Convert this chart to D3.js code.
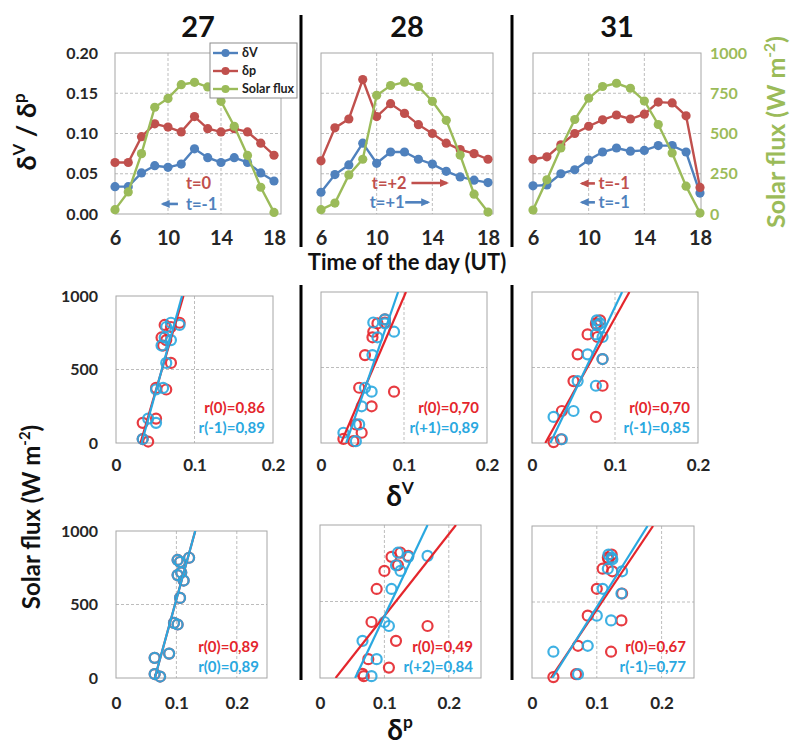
<!DOCTYPE html>
<html>
<head>
<meta charset="utf-8">
<script src="https://cdn.jsdelivr.net/npm/d3@7"></script>
<style>
  body { margin: 0; background: #fff; }
  text { font-family: Lato, "Open Sans", "DejaVu Sans", sans-serif; font-weight: 700; }
</style>
</head>
<body>
<svg id="chart"></svg>
<script>
// ---- data ----
const days = ['27', '28', '31'];
const hours = [6, 7, 8, 9, 10, 11, 12, 13, 14, 15, 16, 17, 18];

const dV27 = [0.034, 0.034, 0.051, 0.060, 0.058, 0.062, 0.081, 0.070, 0.064, 0.070, 0.064, 0.051, 0.041];
const dP27 = [0.064, 0.064, 0.096, 0.112, 0.108, 0.102, 0.121, 0.106, 0.102, 0.106, 0.102, 0.088, 0.073];
const flux27 = [27, 137, 375, 663, 718, 803, 818, 789, 700, 545, 364, 166, 10];

const dV28 = [0.027, 0.049, 0.061, 0.088, 0.063, 0.077, 0.077, 0.068, 0.062, 0.053, 0.046, 0.042, 0.039];
const dP28 = [0.066, 0.107, 0.118, 0.167, 0.121, 0.137, 0.125, 0.111, 0.100, 0.088, 0.080, 0.075, 0.068];
const flux28 = [27, 68, 243, 340, 737, 798, 819, 792, 700, 582, 366, 123, 12];

const dV31 = [0.035, 0.036, 0.050, 0.055, 0.067, 0.077, 0.082, 0.078, 0.079, 0.085, 0.085, 0.077, 0.026];
const dP31 = [0.068, 0.071, 0.086, 0.100, 0.109, 0.117, 0.123, 0.118, 0.124, 0.139, 0.138, 0.122, 0.033];
const flux31 = [25, 212, 410, 587, 719, 792, 812, 781, 702, 556, 379, 173, 6];

const dV = [dV27, dV28, dV31];
const dP = [dP27, dP28, dP31];
const flux = [flux27, flux28, flux31];

// best lag of each day (blue circles), red circles are always lag 0
const lagV = [-1, 1, -1];
const lagP = [0, 2, -1];
const rTextV = [['r(0)=0,86', 'r(-1)=0,89'], ['r(0)=0,70', 'r(+1)=0,89'], ['r(0)=0,70', 'r(-1)=0,85']];
const rTextP = [['r(0)=0,89', 'r(0)=0,89'], ['r(0)=0,49', 'r(+2)=0,84'], ['r(0)=0,67', 'r(-1)=0,77']];

const deltaTicks = [0, 0.05, 0.10, 0.15, 0.20];
const fluxTicks = [0, 250, 500, 750, 1000];
const hourTicks = [6, 10, 14, 18];
const legendNames = ['δV', 'δp', 'Solar flux'];

// lag annotations on the time series (hour / value anchors)
const notes = [
  [{text: 't=0', c: 'red', hour: 11.35, value: 0.038},
   {text: 't=-1', c: 'blue', hour: 11.35, value: 0.0125, arrow: [10.75, 9.6]}],
  [{text: 't=+2', c: 'red', hour: 9.65, value: 0.0385, arrow: [12.5, 15.05]},
   {text: 't=+1', c: 'blue', hour: 9.5, value: 0.0145, arrow: [12.05, 13.7]}],
  [{text: 't=-1', c: 'red', hour: 10.7, value: 0.038, arrow: [10.45, 9.5]},
   {text: 't=-1', c: 'blue', hour: 10.7, value: 0.0145, arrow: [10.45, 9.5]}]
];

// ---- styles / layout ----
const col = {blue: '#4f81bd', red: '#c0504d', green: '#9bbb59', sRed: '#e4262c', sBlue: '#2aa8e0',
             grid: '#bdbdbd', frame: '#a6a6a6', tick: '#262626'};

const topBox = [{x6: 115, x18: 274, right: 281}, {x6: 321, x18: 488, right: 493}, {x6: 533, x18: 700, right: 701}];
const topTop = 53, topBottom = 214;

const rowV = {bottom: 443, xMax: 0.2, grid: [0.1], tickY: 459, rDy: [-30, -10],
  boxes: [{x0: 116, x1: 273, y0: 296}, {x0: 321, x1: 487, y0: 292}, {x0: 532, x1: 698, y0: 292}]};
const rowP = {bottom: 678, xMax: 0.25, grid: [0.1, 0.2], tickY: 697, rDy: [-26, -6],
  boxes: [{x0: 116, x1: 267, y0: 531}, {x0: 320, x1: 481, y0: 525}, {x0: 532, x1: 694, y0: 526}]};

const svg = d3.select('#chart').attr('width', 797).attr('height', 746);

const defs = svg.append('defs');
['red', 'blue'].forEach(c => {
  defs.append('marker')
    .attr('id', 'arr-' + c)
    .attr('markerUnits', 'userSpaceOnUse')
    .attr('markerWidth', 10).attr('markerHeight', 10)
    .attr('refX', 7).attr('refY', 5)
    .attr('orient', 'auto')
    .append('path')
    .attr('d', 'M0,1 L9,5 L0,9 Z')
    .attr('fill', col[c]);
});

function styleAxis(g, size, color) {
  g.select('.domain').remove();
  g.selectAll('.tick line').remove();
  g.selectAll('text')
    .attr('fill', color || col.tick)
    .style('font-size', size + 'px');
}

// text with superscript pieces
function rich(t, parts, size) {
  let shift = 0;
  parts.forEach(([s, sup]) => {
    const target = sup ? -size * 0.42 : 0;
    t.append('tspan').text(s)
      .style('font-size', (sup ? size * 0.62 : size) + 'px')
      .attr('dy', target - shift);
    shift = target;
  });
}

// ---- top row: diurnal series ----
function drawTop(i) {
  const b = topBox[i];
  const x = d3.scaleLinear().domain([6, 18]).range([b.x6, b.x18]);
  const y = d3.scaleLinear().domain([0, 0.2]).range([topBottom, topTop]);
  const yF = d3.scaleLinear().domain([0, 1000]).range([topBottom, topTop]);
  const g = svg.append('g');

  g.selectAll('.hgrid').data(deltaTicks.slice(1, 4)).join('line')
    .attr('x1', b.x6).attr('x2', b.right)
    .attr('y1', d => y(d)).attr('y2', d => y(d))
    .attr('stroke', col.grid).attr('stroke-dasharray', '3,2');
  g.selectAll('.vgrid').data([10, 14]).join('line')
    .attr('x1', d => x(d)).attr('x2', d => x(d))
    .attr('y1', topTop).attr('y2', topBottom)
    .attr('stroke', col.grid).attr('stroke-dasharray', '3,2');
  g.append('rect')
    .attr('x', b.x6).attr('y', topTop)
    .attr('width', b.right - b.x6).attr('height', topBottom - topTop)
    .attr('fill', 'none').attr('stroke', col.frame);

  const series = [
    {vals: dV[i], color: col.blue, s: y},
    {vals: dP[i], color: col.red, s: y},
    {vals: flux[i], color: col.green, s: yF}
  ];
  series.forEach(se => {
    const line = d3.line().x((d, k) => x(hours[k])).y(d => se.s(d));
    g.append('path').datum(se.vals)
      .attr('d', line).attr('fill', 'none')
      .attr('stroke', se.color).attr('stroke-width', 2.4);
    g.selectAll(null).data(se.vals).join('circle')
      .attr('cx', (d, k) => x(hours[k])).attr('cy', d => se.s(d))
      .attr('r', 4.6).attr('fill', se.color);
  });

  // x axis
  g.append('g')
    .attr('transform', `translate(0,${topBottom + 17})`)
    .call(d3.axisBottom(x).tickValues(hourTicks).tickSize(0).tickPadding(0))
    .call(a => styleAxis(a, 20));

  if (i === 0) {
    g.append('g')
      .attr('transform', `translate(${b.x6 - 17},0)`)
      .call(d3.axisLeft(y).tickValues(deltaTicks).tickFormat(d3.format('.2f')).tickSize(0).tickPadding(0))
      .call(a => styleAxis(a, 16));
  }
  if (i === 2) {
    g.append('g')
      .attr('transform', `translate(${b.right + 9},0)`)
      .call(d3.axisRight(yF).tickValues(fluxTicks).tickFormat(d3.format('d')).tickSize(0).tickPadding(0))
      .call(a => styleAxis(a, 16, col.green));
  }

  // lag notes
  notes[i].forEach(n => {
    const yy = y(n.value);
    if (n.arrow) {
      g.append('line')
        .attr('x1', x(n.arrow[0])).attr('x2', x(n.arrow[1]))
        .attr('y1', yy).attr('y2', yy)
        .attr('stroke', col[n.c]).attr('stroke-width', 2.6)
        .attr('marker-end', `url(#arr-${n.c})`);
    }
    g.append('text')
      .attr('x', x(n.hour)).attr('y', yy).attr('dy', '0.36em')
      .attr('fill', col[n.c]).style('font-size', '16.5px')
      .text(n.text);
  });

  // day title
  svg.append('text')
    .attr('x', (b.x6 + b.right) / 2).attr('y', 37)
    .attr('text-anchor', 'middle').style('font-size', '29px').attr('fill', '#111')
    .text(days[i]);

  if (i === 0) {
    const lg = svg.append('g').attr('transform', 'translate(210,43)');
    lg.append('rect').attr('width', 87).attr('height', 55)
      .attr('fill', '#fff').attr('stroke', '#8c8c8c');
    series.forEach((se, k) => {
      const yy = 10 + k * 18;
      lg.append('line').attr('x1', 3).attr('x2', 28).attr('y1', yy).attr('y2', yy)
        .attr('stroke', se.color).attr('stroke-width', 2.4);
      lg.append('circle').attr('cx', 15.5).attr('cy', yy).attr('r', 4).attr('fill', se.color);
      lg.append('text').attr('x', 32).attr('y', yy).attr('dy', '0.35em')
        .style('font-size', '12.5px').attr('fill', '#222').text(legendNames[k]);
    });
  }
}

// ---- scatter rows: solar flux vs delta ----
function lagPairs(delta, fl, lag) {
  const out = [];
  delta.forEach((d, k) => {
    const j = k + lag;
    if (j >= 0 && j < fl.length) out.push([d, fl[j]]);
  });
  return out;
}

function fit(pts) {
  const mx = d3.mean(pts, p => p[0]), my = d3.mean(pts, p => p[1]);
  const sxy = d3.sum(pts, p => (p[0] - mx) * (p[1] - my));
  const sxx = d3.sum(pts, p => (p[0] - mx) ** 2);
  const m = sxy / sxx;
  return {m: m, b: my - m * mx};
}

function drawScatter(row, i, delta, lag, rText, id) {
  const b = row.boxes[i];
  const x = d3.scaleLinear().domain([0, row.xMax]).range([b.x0, b.x1]);
  const y = d3.scaleLinear().domain([0, 1000]).range([row.bottom, b.y0]);
  const g = svg.append('g');

  g.append('clipPath').attr('id', id)
    .append('rect').attr('x', b.x0).attr('y', b.y0)
    .attr('width', b.x1 - b.x0).attr('height', row.bottom - b.y0);

  g.append('line')
    .attr('x1', b.x0).attr('x2', b.x1).attr('y1', y(500)).attr('y2', y(500))
    .attr('stroke', col.grid).attr('stroke-dasharray', '3,2');
  g.selectAll('.vg').data(row.grid).join('line')
    .attr('x1', d => x(d)).attr('x2', d => x(d))
    .attr('y1', b.y0).attr('y2', row.bottom)
    .attr('stroke', col.grid).attr('stroke-dasharray', '3,2');
  g.append('rect')
    .attr('x', b.x0).attr('y', b.y0)
    .attr('width', b.x1 - b.x0).attr('height', row.bottom - b.y0)
    .attr('fill', 'none').attr('stroke', col.frame);

  const sets = [
    {pts: lagPairs(delta, flux[i], 0), color: col.sRed},
    {pts: lagPairs(delta, flux[i], lag), color: col.sBlue}
  ];
  sets.forEach(s => {
    g.selectAll(null).data(s.pts).join('circle')
      .attr('cx', p => x(p[0])).attr('cy', p => y(p[1]))
      .attr('r', 5).attr('fill', 'none')
      .attr('stroke', s.color).attr('stroke-width', 2.2)
      .attr('stroke-opacity', 0.9);
  });
  sets.forEach(s => {
    const f = fit(s.pts);
    g.append('line')
      .attr('clip-path', `url(#${id})`)
      .attr('x1', x((0 - f.b) / f.m)).attr('y1', y(0))
      .attr('x2', x((1000 - f.b) / f.m)).attr('y2', y(1000))
      .attr('stroke', s.color).attr('stroke-width', 2.2);
  });

  g.append('g')
    .attr('transform', `translate(0,${row.tickY})`)
    .call(d3.axisBottom(x).tickValues([0, 0.1, 0.2]).tickFormat(d => d === 0 ? '0' : d3.format('.1f')(d))
      .tickSize(0).tickPadding(0))
    .call(a => styleAxis(a, 17));

  if (i === 0) {
    g.append('g')
      .attr('transform', `translate(${b.x0 - 18},0)`)
      .call(d3.axisLeft(y).tickValues([0, 500, 1000]).tickFormat(d3.format('d')).tickSize(0).tickPadding(0))
      .call(a => styleAxis(a, 16));
  }

  [col.sRed, col.sBlue].forEach((c, k) => {
    g.append('text')
      .attr('x', b.x1 - 8).attr('y', row.bottom + row.rDy[k])
      .attr('text-anchor', 'end').attr('fill', c)
      .style('font-size', '15px').text(rText[k]);
  });
}

[0, 1, 2].forEach(i => {
  drawTop(i);
  drawScatter(rowV, i, dV[i], lagV[i], rTextV[i], 'clipV' + i);
  drawScatter(rowP, i, dP[i], lagP[i], rTextP[i], 'clipP' + i);
});

// ---- separators ----
[301, 512].forEach(sx => {
  [[15, 247], [285, 680]].forEach(([a, z]) => {
    svg.append('line').attr('x1', sx).attr('x2', sx).attr('y1', a).attr('y2', z)
      .attr('stroke', '#000').attr('stroke-width', 3);
  });
});

// ---- axis titles ----
svg.append('text').attr('x', 407).attr('y', 270)
  .attr('text-anchor', 'middle').style('font-size', '22px').attr('fill', '#111')
  .text('Time of the day (UT)');

rich(svg.append('text').attr('x', 400).attr('y', 506).attr('text-anchor', 'middle').attr('fill', '#111'),
  [['δ', false], ['V', true]], 28);
rich(svg.append('text').attr('x', 400).attr('y', 740).attr('text-anchor', 'middle').attr('fill', '#111'),
  [['δ', false], ['p', true]], 28);

rich(svg.append('text').attr('transform', 'translate(36,132) rotate(-90)')
  .attr('text-anchor', 'middle').attr('fill', '#111'),
  [['δ', false], ['V', true], [' / δ', false], ['p', true]], 27);

rich(svg.append('text').attr('transform', 'translate(785,132) rotate(-90)')
  .attr('text-anchor', 'middle').attr('fill', col.green),
  [['Solar flux (W m', false], ['-2', true], [')', false]], 25);

rich(svg.append('text').attr('transform', 'translate(40,517) rotate(-90)')
  .attr('text-anchor', 'middle').attr('fill', '#111'),
  [['Solar flux (W m', false], ['-2', true], [')', false]], 24);
</script>
</body>
</html>
